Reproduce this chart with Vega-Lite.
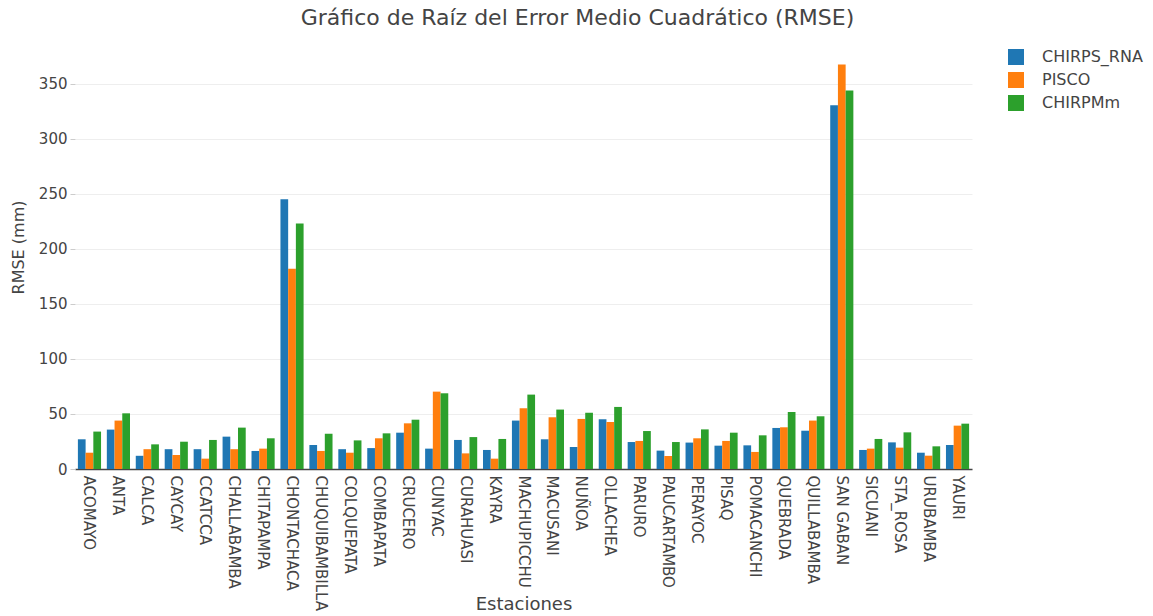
{
  "$schema": "https://vega.github.io/schema/vega-lite/v6.json",
  "autosize": {"type": "none"},
  "width": 897,
  "height": 427,
  "padding": {"left": 75, "top": 42, "right": 181, "bottom": 147},
  "background": "white",
  "config": {
    "font": "DejaVu Sans",
    "view": {"stroke": null},
    "axis": {"labelColor": "#444", "titleColor": "#444", "labelFontSize": 15, "titleFontSize": 16, "titleFontWeight": "normal"}
  },
  "title": {
    "text": "Gráfico de Raíz del Error Medio Cuadrático (RMSE)",
    "fontSize": 22,
    "fontWeight": "normal",
    "color": "#444",
    "anchor": "middle",
    "dx": 54,
    "offset": 12
  },
  "data": {
    "values": [
      {"estacion": "ACOMAYO", "modelo": "CHIRPS_RNA", "rmse": 27},
      {"estacion": "ACOMAYO", "modelo": "PISCO", "rmse": 14.8},
      {"estacion": "ACOMAYO", "modelo": "CHIRPMm", "rmse": 34},
      {"estacion": "ANTA", "modelo": "CHIRPS_RNA", "rmse": 35.8},
      {"estacion": "ANTA", "modelo": "PISCO", "rmse": 44},
      {"estacion": "ANTA", "modelo": "CHIRPMm", "rmse": 50.6},
      {"estacion": "CALCA", "modelo": "CHIRPS_RNA", "rmse": 12},
      {"estacion": "CALCA", "modelo": "PISCO", "rmse": 18},
      {"estacion": "CALCA", "modelo": "CHIRPMm", "rmse": 22.4},
      {"estacion": "CAYCAY", "modelo": "CHIRPS_RNA", "rmse": 18},
      {"estacion": "CAYCAY", "modelo": "PISCO", "rmse": 12.7},
      {"estacion": "CAYCAY", "modelo": "CHIRPMm", "rmse": 24.8},
      {"estacion": "CCATCCA", "modelo": "CHIRPS_RNA", "rmse": 18},
      {"estacion": "CCATCCA", "modelo": "PISCO", "rmse": 9.4},
      {"estacion": "CCATCCA", "modelo": "CHIRPMm", "rmse": 26.4},
      {"estacion": "CHALLABAMBA", "modelo": "CHIRPS_RNA", "rmse": 29.4},
      {"estacion": "CHALLABAMBA", "modelo": "PISCO", "rmse": 18},
      {"estacion": "CHALLABAMBA", "modelo": "CHIRPMm", "rmse": 37.6},
      {"estacion": "CHITAPAMPA", "modelo": "CHIRPS_RNA", "rmse": 16.4},
      {"estacion": "CHITAPAMPA", "modelo": "PISCO", "rmse": 18.5},
      {"estacion": "CHITAPAMPA", "modelo": "CHIRPMm", "rmse": 27.9},
      {"estacion": "CHONTACHACA", "modelo": "CHIRPS_RNA", "rmse": 245.2},
      {"estacion": "CHONTACHACA", "modelo": "PISCO", "rmse": 182},
      {"estacion": "CHONTACHACA", "modelo": "CHIRPMm", "rmse": 223},
      {"estacion": "CHUQUIBAMBILLA", "modelo": "CHIRPS_RNA", "rmse": 21.8},
      {"estacion": "CHUQUIBAMBILLA", "modelo": "PISCO", "rmse": 16.4},
      {"estacion": "CHUQUIBAMBILLA", "modelo": "CHIRPMm", "rmse": 32},
      {"estacion": "COLQUEPATA", "modelo": "CHIRPS_RNA", "rmse": 18},
      {"estacion": "COLQUEPATA", "modelo": "PISCO", "rmse": 14.8},
      {"estacion": "COLQUEPATA", "modelo": "CHIRPMm", "rmse": 26},
      {"estacion": "COMBAPATA", "modelo": "CHIRPS_RNA", "rmse": 19},
      {"estacion": "COMBAPATA", "modelo": "PISCO", "rmse": 27.9},
      {"estacion": "COMBAPATA", "modelo": "CHIRPMm", "rmse": 32.4},
      {"estacion": "CRUCERO", "modelo": "CHIRPS_RNA", "rmse": 33},
      {"estacion": "CRUCERO", "modelo": "PISCO", "rmse": 41.5},
      {"estacion": "CRUCERO", "modelo": "CHIRPMm", "rmse": 44.8},
      {"estacion": "CUNYAC", "modelo": "CHIRPS_RNA", "rmse": 18.5},
      {"estacion": "CUNYAC", "modelo": "PISCO", "rmse": 70.3},
      {"estacion": "CUNYAC", "modelo": "CHIRPMm", "rmse": 68.8},
      {"estacion": "CURAHUASI", "modelo": "CHIRPS_RNA", "rmse": 26.4},
      {"estacion": "CURAHUASI", "modelo": "PISCO", "rmse": 14.2},
      {"estacion": "CURAHUASI", "modelo": "CHIRPMm", "rmse": 29},
      {"estacion": "KAYRA", "modelo": "CHIRPS_RNA", "rmse": 17.3},
      {"estacion": "KAYRA", "modelo": "PISCO", "rmse": 9.4},
      {"estacion": "KAYRA", "modelo": "CHIRPMm", "rmse": 27.3},
      {"estacion": "MACHUPICCHU", "modelo": "CHIRPS_RNA", "rmse": 44},
      {"estacion": "MACHUPICCHU", "modelo": "PISCO", "rmse": 55.2},
      {"estacion": "MACHUPICCHU", "modelo": "CHIRPMm", "rmse": 67.6},
      {"estacion": "MACUSANI", "modelo": "CHIRPS_RNA", "rmse": 27},
      {"estacion": "MACUSANI", "modelo": "PISCO", "rmse": 47},
      {"estacion": "MACUSANI", "modelo": "CHIRPMm", "rmse": 54},
      {"estacion": "NUÑOA", "modelo": "CHIRPS_RNA", "rmse": 20},
      {"estacion": "NUÑOA", "modelo": "PISCO", "rmse": 45.5},
      {"estacion": "NUÑOA", "modelo": "CHIRPMm", "rmse": 51.2},
      {"estacion": "OLLACHEA", "modelo": "CHIRPS_RNA", "rmse": 45.2},
      {"estacion": "OLLACHEA", "modelo": "PISCO", "rmse": 42.7},
      {"estacion": "OLLACHEA", "modelo": "CHIRPMm", "rmse": 56.4},
      {"estacion": "PARURO", "modelo": "CHIRPS_RNA", "rmse": 24.5},
      {"estacion": "PARURO", "modelo": "PISCO", "rmse": 25.5},
      {"estacion": "PARURO", "modelo": "CHIRPMm", "rmse": 34.5},
      {"estacion": "PAUCARTAMBO", "modelo": "CHIRPS_RNA", "rmse": 16.7},
      {"estacion": "PAUCARTAMBO", "modelo": "PISCO", "rmse": 11.8},
      {"estacion": "PAUCARTAMBO", "modelo": "CHIRPMm", "rmse": 24.5},
      {"estacion": "PERAYOC", "modelo": "CHIRPS_RNA", "rmse": 24},
      {"estacion": "PERAYOC", "modelo": "PISCO", "rmse": 27.9},
      {"estacion": "PERAYOC", "modelo": "CHIRPMm", "rmse": 36},
      {"estacion": "PISAQ", "modelo": "CHIRPS_RNA", "rmse": 21.2},
      {"estacion": "PISAQ", "modelo": "PISCO", "rmse": 25.5},
      {"estacion": "PISAQ", "modelo": "CHIRPMm", "rmse": 33},
      {"estacion": "POMACANCHI", "modelo": "CHIRPS_RNA", "rmse": 21.5},
      {"estacion": "POMACANCHI", "modelo": "PISCO", "rmse": 15.5},
      {"estacion": "POMACANCHI", "modelo": "CHIRPMm", "rmse": 30.6},
      {"estacion": "QUEBRADA", "modelo": "CHIRPS_RNA", "rmse": 37.3},
      {"estacion": "QUEBRADA", "modelo": "PISCO", "rmse": 37.9},
      {"estacion": "QUEBRADA", "modelo": "CHIRPMm", "rmse": 51.8},
      {"estacion": "QUILLABAMBA", "modelo": "CHIRPS_RNA", "rmse": 34.8},
      {"estacion": "QUILLABAMBA", "modelo": "PISCO", "rmse": 44},
      {"estacion": "QUILLABAMBA", "modelo": "CHIRPMm", "rmse": 47.9},
      {"estacion": "SAN GABAN", "modelo": "CHIRPS_RNA", "rmse": 330.5},
      {"estacion": "SAN GABAN", "modelo": "PISCO", "rmse": 367.5},
      {"estacion": "SAN GABAN", "modelo": "CHIRPMm", "rmse": 344},
      {"estacion": "SICUANI", "modelo": "CHIRPS_RNA", "rmse": 17.3},
      {"estacion": "SICUANI", "modelo": "PISCO", "rmse": 18.5},
      {"estacion": "SICUANI", "modelo": "CHIRPMm", "rmse": 27.3},
      {"estacion": "STA_ROSA", "modelo": "CHIRPS_RNA", "rmse": 24.2},
      {"estacion": "STA_ROSA", "modelo": "PISCO", "rmse": 19.4},
      {"estacion": "STA_ROSA", "modelo": "CHIRPMm", "rmse": 33.3},
      {"estacion": "URUBAMBA", "modelo": "CHIRPS_RNA", "rmse": 14.8},
      {"estacion": "URUBAMBA", "modelo": "PISCO", "rmse": 12.1},
      {"estacion": "URUBAMBA", "modelo": "CHIRPMm", "rmse": 20.6},
      {"estacion": "YAURI", "modelo": "CHIRPS_RNA", "rmse": 21.8},
      {"estacion": "YAURI", "modelo": "PISCO", "rmse": 39.4},
      {"estacion": "YAURI", "modelo": "CHIRPMm", "rmse": 41.2}
    ]
  },
  "mark": {"type": "bar"},
  "encoding": {
    "x": {
      "field": "estacion",
      "type": "nominal",
      "sort": null,
      "scale": {"paddingInner": 0.2, "paddingOuter": 0.1},
      "axis": {
        "title": "Estaciones",
        "titleFontSize": 18,
        "labelAngle": 90,
        "labelAlign": "left",
        "labelBaseline": "middle",
        "labelPadding": 6,
        "ticks": false,
        "domainColor": "#444",
        "domainWidth": 1.5,
        "titleBaseline": "alphabetic",
        "titleY": 140
      }
    },
    "xOffset": {
      "field": "modelo",
      "type": "nominal",
      "sort": ["CHIRPS_RNA", "PISCO", "CHIRPMm"],
      "scale": {"paddingInner": 0, "paddingOuter": 0}
    },
    "y": {
      "field": "rmse",
      "type": "quantitative",
      "scale": {"domain": [0, 388], "nice": false},
      "axis": {
        "title": "RMSE (mm)",
        "values": [0, 50, 100, 150, 200, 250, 300, 350],
        "gridColor": "#eeeeee",
        "domain": false,
        "tickColor": "#cccccc",
        "tickSize": 5,
        "labelPadding": 3,
        "titleX": -49,
        "titleY": 205
      }
    },
    "color": {
      "field": "modelo",
      "type": "nominal",
      "scale": {"domain": ["CHIRPS_RNA", "PISCO", "CHIRPMm"], "range": ["#1f77b4", "#ff7f0e", "#2ca02c"]},
      "legend": {
        "title": null,
        "orient": "none",
        "legendX": 933,
        "legendY": 7,
        "symbolType": "square",
        "symbolSize": 256,
        "symbolStrokeWidth": 0,
        "labelFontSize": 16,
        "labelColor": "#444",
        "labelOffset": 18,
        "rowPadding": 7
      }
    }
  }
}
